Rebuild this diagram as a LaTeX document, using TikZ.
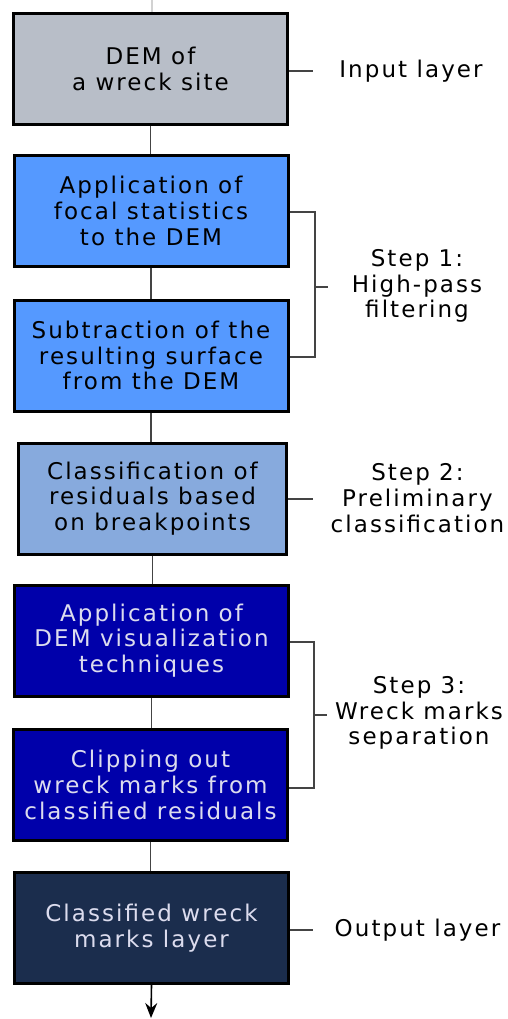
\documentclass[tikz,border=0pt]{standalone}
\usepackage{fontspec}
\newfontfamily\diagfont{DejaVu Sans}[LetterSpace=9]
\usetikzlibrary{arrows.meta,calc}

\definecolor{demgray}{HTML}{B8BEC8}
\definecolor{stepone}{HTML}{5599FF}
\definecolor{steptwo}{HTML}{87AADD}
\definecolor{stepthree}{HTML}{0000AA}
\definecolor{outblue}{HTML}{1B2D4D}
\definecolor{conngray}{HTML}{444444}
\definecolor{paletext}{HTML}{DCDCEE}

\newcommand{\boxfont}{\diagfont\fontsize{23}{25.7}\selectfont}

\tikzset{
  box/.style={draw=black, line width=3pt, minimum width=274pt, minimum height=111pt,
    align=center, inner sep=0pt, font=\boxfont},
  conn/.style={draw=conngray, line width=1.3pt},
  lbl/.style={align=center, inner sep=0pt, font=\boxfont},
}

\begin{document}
\begin{tikzpicture}[x=1pt, y=-1pt]
    \useasboundingbox (0, 0) rectangle (508, 1019);

    % boxes
    \node[box, fill=demgray] (dem) at (150.5, 69) {DEM of\\a wreck site};
    \node[box, fill=stepone] (focal) at (151, 211) {Application of\\focal statistics\\to the DEM};
    \node[box, fill=stepone] (subtr) at (151, 355.5) {Subtraction of the\\resulting surface\\from the DEM};
    \node[box, fill=steptwo, minimum width=268pt] (classif) at (152.5, 498.5) {Classification of\\residuals based\\on breakpoints};
    \node[box, fill=stepthree, text=paletext] (visual) at (151.5, 640.5) {Application of\\DEM visualization\\techniques};
    \node[box, fill=stepthree, text=paletext] (clip) at (150.5, 785) {Clipping out\\wreck marks from\\classified residuals};
    \node[box, fill=outblue, text=paletext] (output) at (151.5, 928) {Classified wreck\\marks layer};

    % labels
    \node[lbl] (inlbl) at (411, 71) {Input layer};
    \node[lbl] (step1) at (417, 286) {Step 1:\\High-pass\\filtering};
    \node[lbl] (step2) at (417.5, 498) {Step 2:\\Preliminary\\classification};
    \node[lbl] (step3) at (419, 713) {Step 3:\\Wreck marks\\separation};
    \node[lbl] (outlbl) at (417.5, 930) {Output layer};

    % chain
    \coordinate (top) at (152, 0);
    \coordinate (bottom) at (151, 1018);
    \draw[conn, draw=gray!35] (top) -- (top |- dem.north);
    \draw[conn] (dem.south) -- (dem.south |- focal.north);
    \draw[conn] (focal.south) -- (focal.south |- subtr.north);
    \draw[conn] (subtr.south) -- (subtr.south |- classif.north);
    \draw[conn] (classif.south) -- (classif.south |- visual.north);
    \draw[conn] (visual.south) -- (visual.south |- clip.north);
    \draw[conn] (clip.south) -- (clip.south |- output.north);
    \draw[-{Stealth[length=15pt, width=12pt, inset=5pt]}, line width=1.6pt] (output.south) -- (bottom);

    % side ticks and brackets
    \draw[conn] (dem.east |- 0, 71) -- (313, 71);
    \draw[conn] (focal.east |- 0, 212) -- (315, 212) -- (315, 357) -- (subtr.east |- 0, 357);
    \draw[conn] (315, 287) -- (328, 287);
    \draw[conn] (classif.east |- 0, 499) -- (313, 499);
    \draw[conn] (visual.east |- 0, 642) -- (314, 642) -- (314, 788) -- (clip.east |- 0, 788);
    \draw[conn] (314, 715) -- (327, 715);
    \draw[conn] (output.east |- 0, 930) -- (313, 930);
\end{tikzpicture}
\end{document}
